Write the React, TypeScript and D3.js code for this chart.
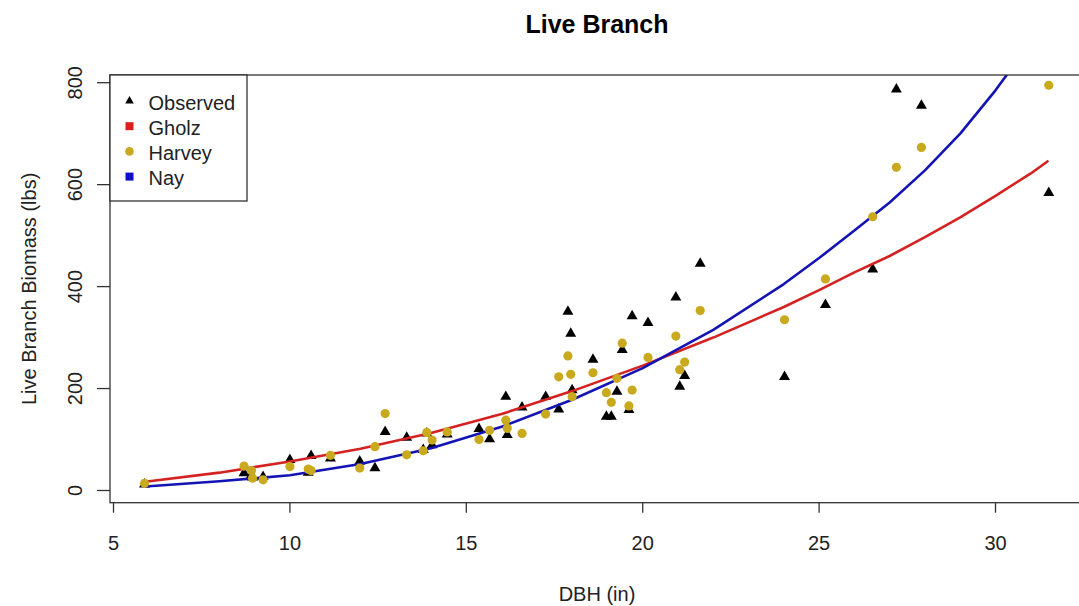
import React from "react";
import * as d3 from "d3";

// Observed tree DBH (in) with observed biomass and Harvey predictions (lbs)
const dbh = [5.88, 8.7, 8.91, 8.94, 9.24, 10.0, 10.52, 10.6, 11.15, 11.98, 12.41, 12.7, 13.31, 13.78, 13.88, 14.03, 14.46, 15.36, 15.66, 16.12, 16.16, 16.58, 17.25, 17.62, 17.88, 17.96, 18.0, 18.59, 18.97, 19.11, 19.27, 19.42, 19.61, 19.7, 20.15, 20.94, 21.05, 21.19, 21.63, 24.02, 25.18, 26.52, 27.19, 27.9, 31.51];
const observed = [12, 34, 30, 26, 27, 60, 35, 68, 63, 57, 44, 115, 104, 80, 112, 89, 110, 121, 101, 184, 109, 163, 184, 159, 351, 308, 197, 257, 145, 145, 194, 276, 158, 342, 329, 379, 204, 225, 445, 223, 364, 434, 787, 755, 584];
const harvey = [14, 48, 39, 24, 21, 47, 42, 39, 69, 44, 86, 151, 70, 78, 114, 99, 115, 100, 118, 138, 122, 112, 150, 223, 264, 228, 184, 231, 192, 173, 220, 289, 166, 197, 261, 303, 237, 252, 353, 335, 415, 537, 634, 673, 795];

// Model curves
const curveDBH = [5.9, 8, 10, 12, 14, 16, 18, 20, 22, 24, 25, 26, 27, 28, 29, 30, 31, 31.5];
const gholz = [17, 35, 57, 82, 113, 150, 195, 245, 300, 360, 393, 428, 460, 497, 536, 578, 622, 647];
const nay = [8, 18, 30, 52, 83, 125, 178, 240, 315, 405, 456, 510, 565, 628, 700, 785, 880, 930];

const xTicks = [5, 10, 15, 20, 25, 30];
const yTicks = [0, 200, 400, 600, 800];

const legendItems = [
  { label: "Observed", kind: "triangle", color: "#000000" },
  { label: "Gholz", kind: "square", color: "#dd1c1c" },
  { label: "Harvey", kind: "circle", color: "#c9aa1e" },
  { label: "Nay", kind: "square", color: "#1010cc" },
];

const W = 1079;
const H = 606;
const FONT = "'Liberation Sans', Arial, sans-serif";

export default function App() {
  const x = d3.scaleLinear().domain([5, 30]).range([113.5, 995.5]);
  const y = d3.scaleLinear().domain([0, 800]).range([490.5, 82.7]);
  const box = { left: 110, top: 75, right: 1086, bottom: 502.7 };

  const line = d3
    .line<[number, number]>()
    .x((d) => x(d[0]))
    .y((d) => y(d[1]));
  const redPath = line(curveDBH.map((d, i) => [d, gholz[i]]) as [number, number][]) || "";
  const bluePath = line(curveDBH.map((d, i) => [d, nay[i]]) as [number, number][]) || "";
  const tri = d3.symbol().type(d3.symbolTriangle).size(52)() || "";
  const triSmall = d3.symbol().type(d3.symbolTriangle).size(32)() || "";

  const midY = (box.top + box.bottom) / 2;

  return (
    <svg
      width={W}
      height={H}
      style={{ position: "absolute", left: 0, top: 0, background: "#fff" }}
      fontFamily={FONT}
    >
      <defs>
        <clipPath id="plotClip">
          <rect x={box.left} y={box.top} width={box.right - box.left} height={box.bottom - box.top} />
        </clipPath>
      </defs>
      <rect x={0} y={0} width={W} height={H} fill="#fff" />

      <text x={597} y={33} textAnchor="middle" fontWeight="bold" fontSize={25} fill="#000">
        Live Branch
      </text>

      {/* data */}
      <g clipPath="url(#plotClip)">
        {dbh.map((d, i) => (
          <path key={"o" + i} d={tri} transform={`translate(${x(d)},${y(observed[i])})`} fill="#000" />
        ))}
        <path d={redPath} fill="none" stroke="#d42222" strokeWidth={2.6} strokeLinejoin="round" />
        <path d={bluePath} fill="none" stroke="#1414b4" strokeWidth={2.6} strokeLinejoin="round" />
        {dbh.map((d, i) => (
          <circle key={"h" + i} cx={x(d)} cy={y(harvey[i])} r={4.6} fill="#c9aa1e" />
        ))}
      </g>

      {/* box */}
      <rect
        x={box.left}
        y={box.top}
        width={box.right - box.left}
        height={box.bottom - box.top}
        fill="none"
        stroke="#333"
        strokeWidth={1.3}
      />

      {/* x axis */}
      {xTicks.map((t) => (
        <g key={"xt" + t}>
          <line x1={x(t)} x2={x(t)} y1={box.bottom} y2={box.bottom + 10} stroke="#333" strokeWidth={1.3} />
          <text x={x(t)} y={549.5} textAnchor="middle" fontSize={20} fill="#222">
            {t}
          </text>
        </g>
      ))}
      <text x={597} y={600.5} textAnchor="middle" fontSize={20} fill="#222">
        DBH (in)
      </text>

      {/* y axis */}
      {yTicks.map((t) => (
        <g key={"yt" + t}>
          <line x1={box.left - 13} x2={box.left} y1={y(t)} y2={y(t)} stroke="#333" strokeWidth={1.3} />
          <text
            transform={`translate(82,${y(t)}) rotate(-90)`}
            textAnchor="middle"
            fontSize={20}
            fill="#222"
          >
            {t}
          </text>
        </g>
      ))}
      <text
        transform={`translate(35.5,${midY}) rotate(-90)`}
        textAnchor="middle"
        fontSize={20}
        fill="#222"
      >
        Live Branch Biomass (lbs)
      </text>

      {/* legend */}
      <rect x={110} y={75} width={137} height={126} fill="#fff" stroke="#222" strokeWidth={1.2} />
      {legendItems.map((it, i) => {
        const cy = 101 + i * 25.2;
        const cx = 129.5;
        let sym;
        if (it.kind === "triangle") sym = <path d={triSmall} transform={`translate(${cx},${cy})`} fill={it.color} />;
        else if (it.kind === "square") sym = <rect x={cx - 4} y={cy - 4} width={8} height={8} fill={it.color} />;
        else sym = <circle cx={cx} cy={cy} r={4.3} fill={it.color} />;
        return (
          <g key={it.label}>
            {sym}
            <text x={148.5} y={cy + 8.8} fontSize={20} fill="#222">
              {it.label}
            </text>
          </g>
        );
      })}
    </svg>
  );
}
